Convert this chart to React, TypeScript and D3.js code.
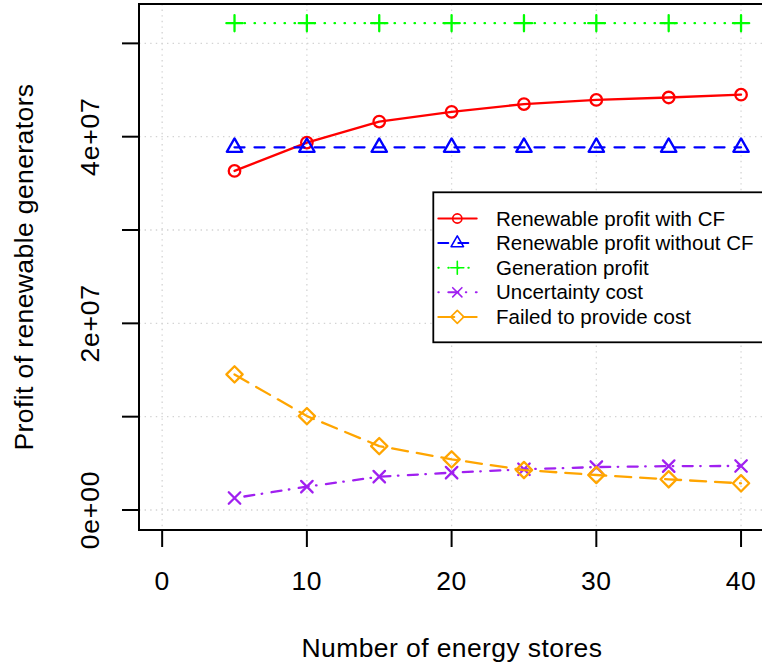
import React from "react";
import * as d3 from "d3";

const stores = [5, 10, 15, 20, 25, 30, 35, 40];
const profitWithCF = [3.633e7, 3.937e7, 4.162e7, 4.266e7, 4.35e7, 4.394e7, 4.42e7, 4.45e7];
const profitWithoutCF = [3.886e7, 3.886e7, 3.886e7, 3.886e7, 3.886e7, 3.886e7, 3.886e7, 3.886e7];
const generationProfit = [5.216e7, 5.216e7, 5.216e7, 5.216e7, 5.216e7, 5.216e7, 5.216e7, 5.216e7];
const uncertaintyCost = [0.128e7, 0.25e7, 0.357e7, 0.4e7, 0.436e7, 0.46e7, 0.47e7, 0.472e7];
const failedCost = [1.453e7, 1.006e7, 0.685e7, 0.543e7, 0.428e7, 0.375e7, 0.329e7, 0.286e7];

const xTicks = [0, 10, 20, 30, 40];
const yTicks = [0, 1e7, 2e7, 3e7, 4e7, 5e7];
const yTickLabels = ["0e+00", "", "2e+07", "", "4e+07", ""];

const seriesNames = [
  "Renewable profit with CF",
  "Renewable profit without CF",
  "Generation profit",
  "Uncertainty cost",
  "Failed to provide cost",
];

type Shape = "circle" | "triangle" | "plus" | "cross" | "diamond";

const seriesDefs: { name: string; values: number[]; color: string; dash: string; shape: Shape }[] = [
  { name: seriesNames[0], values: profitWithCF, color: "#FF0000", dash: "none", shape: "circle" },
  { name: seriesNames[1], values: profitWithoutCF, color: "#0000FF", dash: "10,10", shape: "triangle" },
  { name: seriesNames[2], values: generationProfit, color: "#00FF00", dash: "0.5,9.5", shape: "plus" },
  { name: seriesNames[3], values: uncertaintyCost, color: "#A020F0", dash: "0.5,9.5,10,7.5", shape: "cross" },
  { name: seriesNames[4], values: failedCost, color: "#FFA500", dash: "16,9", shape: "diamond" },
];

const W = 762;
const H = 664;
const LEFT = 139;
const RIGHT = 764.2;
const TOP = 4;
const BOTTOM = 530;

const x = d3.scaleLinear().domain([-1.6, 41.6]).range([LEFT, RIGHT]);
const y = d3.scaleLinear().domain([-0.2143e7, 5.4218e7]).range([BOTTOM, TOP]);

const R = 5.75;

function markerPath(shape: Shape, cx: number, cy: number): string {
  const p = d3.path();
  if (shape === "circle") {
    p.moveTo(cx + R, cy);
    p.arc(cx, cy, R, 0, Math.PI * 2);
  } else if (shape === "triangle") {
    const r = 1.5551 * R;
    const xc = 1.3468 * R;
    const yc = 0.7776 * R;
    p.moveTo(cx, cy - r);
    p.lineTo(cx + xc, cy + yc);
    p.lineTo(cx - xc, cy + yc);
    p.closePath();
  } else if (shape === "plus") {
    const s = Math.SQRT2 * R;
    p.moveTo(cx - s, cy);
    p.lineTo(cx + s, cy);
    p.moveTo(cx, cy - s);
    p.lineTo(cx, cy + s);
  } else if (shape === "cross") {
    p.moveTo(cx - R, cy - R);
    p.lineTo(cx + R, cy + R);
    p.moveTo(cx - R, cy + R);
    p.lineTo(cx + R, cy - R);
  } else {
    const s = Math.SQRT2 * R;
    p.moveTo(cx, cy - s);
    p.lineTo(cx + s, cy);
    p.lineTo(cx, cy + s);
    p.lineTo(cx - s, cy);
    p.closePath();
  }
  return p.toString();
}

const FONT = "'Liberation Sans', Arial, Helvetica, sans-serif";

export default function App() {
  const line = d3
    .line<number>()
    .x((_, i) => x(stores[i]))
    .y((d) => y(d));

  const legendX0 = 433.3;
  const legendY0 = 192.3;
  const legendY1 = 342.3;
  const rowY = (i: number) => 218.5 + i * 24.6;

  return (
    <svg
      width={W}
      height={H}
      style={{ position: "absolute", left: 0, top: 0, background: "#fff" }}
      fontFamily={FONT}
    >
      <rect x={0} y={0} width={W} height={H} fill="#fff" />
      {/* grid */}
      <g stroke="#D3D3D3" strokeWidth={1.3} strokeDasharray="1.4,4.2" fill="none">
        {xTicks.map((t) => (
          <line key={"gx" + t} x1={x(t)} x2={x(t)} y1={TOP} y2={BOTTOM} />
        ))}
        {yTicks.map((t) => (
          <line key={"gy" + t} x1={LEFT} x2={RIGHT} y1={y(t)} y2={y(t)} />
        ))}
      </g>

      {/* series */}
      {seriesDefs.map((s) => (
        <g key={s.name}>
          <path
            d={line(s.values) || ""}
            fill="none"
            stroke={s.color}
            strokeWidth={2.3}
            strokeDasharray={s.dash}
            strokeLinecap="round"
            strokeLinejoin="round"
          />
          {s.values.map((v, i) => (
            <path
              key={i}
              d={markerPath(s.shape, x(stores[i]), y(v))}
              fill="none"
              stroke={s.color}
              strokeWidth={2.3}
              strokeLinecap="round"
              strokeLinejoin="round"
            />
          ))}
        </g>
      ))}

      {/* box */}
      <rect x={LEFT} y={TOP} width={RIGHT - LEFT} height={BOTTOM - TOP} fill="none" stroke="#000" strokeWidth={2} />

      {/* x axis */}
      <g stroke="#000" strokeWidth={2}>
        <line x1={x(xTicks[0])} x2={x(xTicks[xTicks.length - 1])} y1={BOTTOM} y2={BOTTOM} />
        {xTicks.map((t) => (
          <line key={"xt" + t} x1={x(t)} x2={x(t)} y1={BOTTOM} y2={BOTTOM + 17} />
        ))}
      </g>
      {xTicks.map((t) => (
        <text key={"xl" + t} x={x(t)} y={590} textAnchor="middle" fontSize={26.5} letterSpacing={0.6} fill="#000">
          {String(t)}
        </text>
      ))}

      {/* y axis */}
      <g stroke="#000" strokeWidth={2}>
        <line x1={LEFT} x2={LEFT} y1={y(yTicks[0])} y2={y(yTicks[yTicks.length - 1])} />
        {yTicks.map((t) => (
          <line key={"yt" + t} x1={LEFT - 17} x2={LEFT} y1={y(t)} y2={y(t)} />
        ))}
      </g>
      {yTicks.map((t, i) =>
        yTickLabels[i] ? (
          <text
            key={"yl" + t}
            transform={`translate(99,${y(t)}) rotate(-90)`}
            textAnchor="middle"
            fontSize={26.5}
            letterSpacing={0.8}
            fill="#000"
          >
            {yTickLabels[i]}
          </text>
        ) : null
      )}

      {/* axis titles */}
      <text x={452} y={656.5} textAnchor="middle" fontSize={26.5} letterSpacing={0.4} fill="#000">
        Number of energy stores
      </text>
      <text
        transform={`translate(33,${(TOP + BOTTOM) / 2}) rotate(-90)`}
        textAnchor="middle"
        fontSize={26.5}
        letterSpacing={0.4}
        fill="#000"
      >
        Profit of renewable generators
      </text>

      {/* legend */}
      <rect
        x={legendX0}
        y={legendY0}
        width={RIGHT - legendX0}
        height={legendY1 - legendY0}
        fill="#fff"
        stroke="#000"
        strokeWidth={1.8}
      />
      {seriesDefs.map((s, i) => (
        <g key={"lg" + s.name}>
          <line
            x1={438.3}
            x2={476.7}
            y1={rowY(i)}
            y2={rowY(i)}
            stroke={s.color}
            strokeWidth={2}
            strokeDasharray={s.dash}
            strokeLinecap="round"
          />
          <path
            d={markerPath(s.shape, 457.3, rowY(i))}
            fill="none"
            stroke={s.color}
            strokeWidth={2}
            strokeLinecap="round"
            strokeLinejoin="round"
            transform={`translate(${457.3 * 0.2},${rowY(i) * 0.2}) scale(0.8)`}
          />
          <text x={496} y={rowY(i)} dy="0.35em" fontSize={20.5} fill="#000">
            {s.name}
          </text>
        </g>
      ))}
    </svg>
  );
}
